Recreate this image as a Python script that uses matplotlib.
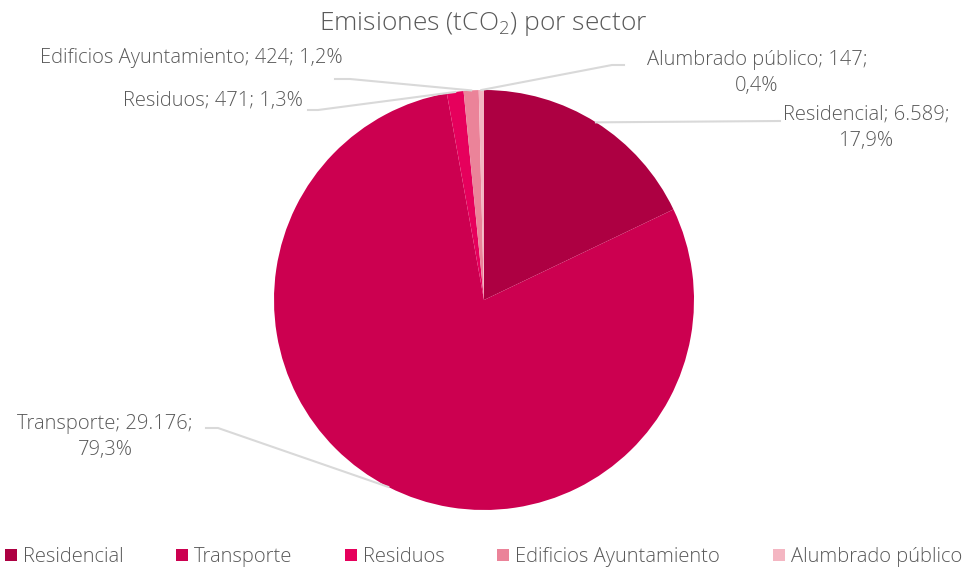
import numpy as np
import matplotlib.pyplot as plt
from matplotlib.patches import Patch

# ==============================
# DATA
# ==============================
sectors = ["Residencial", "Transporte", "Residuos", "Edificios Ayuntamiento", "Alumbrado público"]
emissions = [6589, 29176, 471, 424, 147]
pct_labels = ["17,9%", "79,3%", "1,3%", "1,2%", "0,4%"]
value_labels = ["6.589", "29.176", "471", "424", "147"]
colors = ["#AD0042", "#CC0050", "#E6005C", "#EB8399", "#F4B6C2"]

W, H = 967, 572
plt.rcParams['font.family'] = ['Open Sans', 'DejaVu Sans']
plt.rcParams['mathtext.fontset'] = 'custom'
plt.rcParams['mathtext.rm'] = 'Open Sans:light'
plt.rcParams['mathtext.it'] = 'Open Sans:light'
txt_color = "#595959"
line_color = "#D9D9D9"
fs = 14.5

fig = plt.figure(figsize=(W / 100, H / 100), dpi=100)

# pie axes (centre and radius in pixels)
cx, cy, r = 484, 300, 210
ax = fig.add_axes([(cx - r) / W, (H - cy - r) / H, 2 * r / W, 2 * r / H])
wedges, _ = ax.pie(emissions, colors=colors, startangle=90, counterclock=False,
                   radius=1, wedgeprops=dict(linewidth=0))
ax.set_xlim(-1, 1)
ax.set_ylim(-1, 1)
ax.set_aspect('equal')
ax.axis('off')

# overlay axes in pixel coords (top origin) for labels + leader lines
ov = fig.add_axes([0, 0, 1, 1])
ov.set_xlim(0, W)
ov.set_ylim(H, 0)
ov.axis('off')

# label text, position and leader elbows (pixels)
label_text = {
    0: (f"{sectors[0]}; {value_labels[0]};\n{pct_labels[0]}", 866, 128, 'center', [(780, 121)]),
    1: (f"{sectors[1]}; {value_labels[1]};\n{pct_labels[1]}", 105, 437, 'center', [(218, 428), (206, 428)]),
    2: (f"{sectors[2]}; {value_labels[2]}; {pct_labels[2]}", 303, 101, 'right', [(318, 110), (308, 110)]),
    3: (f"{sectors[3]}; {value_labels[3]}; {pct_labels[3]}", 343, 58, 'right', [(350, 79), (335, 79)]),
    4: (f"{sectors[4]}; {value_labels[4]};\n{pct_labels[4]}", 757, 73, 'center', [(612, 65), (624, 65)]),
}

total = sum(emissions)
angle = 90.0
for i, v in enumerate(emissions):
    span = 360.0 * v / total
    mid = np.deg2rad(angle - span / 2)
    angle -= span
    ax_x, ax_y = cx + r * np.cos(mid), cy - r * np.sin(mid)
    text, tx, ty, ha, elbow = label_text[i]
    pts = [(ax_x, ax_y)] + elbow
    ov.plot([p[0] for p in pts], [p[1] for p in pts], color=line_color, lw=1.5)
    ov.text(tx, ty, text, ha=ha, va='center', fontsize=fs, color=txt_color,
            linespacing=1.45, fontweight='light')

fig.suptitle("Emisiones (tCO$_2$) por sector", y=1 - 24 / H, va='center',
             fontsize=19, color=txt_color, fontweight='light')

handles = [Patch(facecolor=c, edgecolor='none') for c in colors]
fig.legend(handles, sectors, loc='center', bbox_to_anchor=(0.5, 1 - 557 / H), ncol=5,
           frameon=False, prop=dict(size=fs, weight='light'), labelcolor=txt_color,
           handlelength=0.6, handleheight=0.6, handletextpad=0.3, columnspacing=2.6)

fig.savefig("out.png", dpi=100)
